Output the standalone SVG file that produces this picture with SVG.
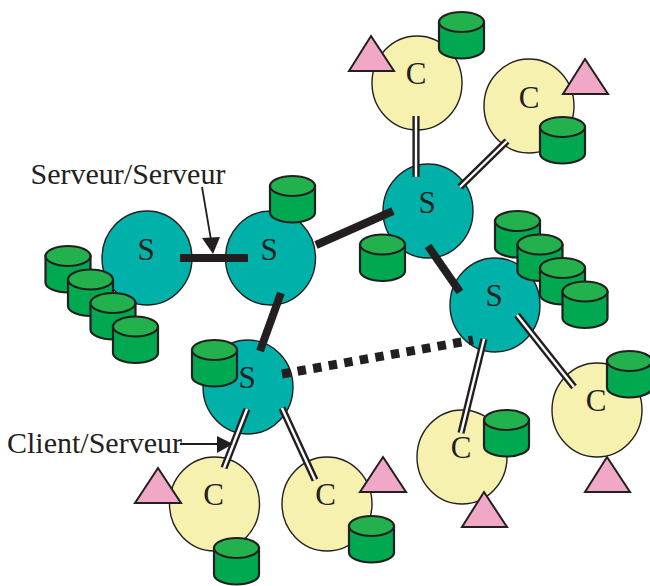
<svg xmlns="http://www.w3.org/2000/svg" xmlns:xlink="http://www.w3.org/1999/xlink" width="650" height="586" viewBox="0 0 650 586">
<style>
.s{fill:#00b1a9;stroke:#231f20;stroke-width:1.4}
.c{fill:#f7f1b0;stroke:#231f20;stroke-width:1.4}
.t{fill:#f0a8c6;stroke:#231f20;stroke-width:2}
.body{fill:#00a94f;stroke:#231f20;stroke-width:2.2}
.top{fill:#22b14c;stroke:#231f20;stroke-width:2.2}
text{font-family:"Liberation Serif","Times New Roman",serif;font-size:30px;fill:#231f20}
.m{text-anchor:middle;font-size:31px}
.thick{stroke:#231f20;stroke-width:8;fill:none}
.dash{stroke:#231f20;stroke-width:9;fill:none;stroke-dasharray:8.500 7.300}
.dbl1{stroke:#231f20;stroke-width:7.2;fill:none}
.dbl2{stroke:#fff;stroke-width:2.4;fill:none}
.thin{stroke:#231f20;stroke-width:1.8;fill:none}
.head{fill:#231f20;stroke:none}
</style>
<defs>
<g id="cyl">
<path class="body" d="M0 10V36.500A22.500 10 0 0 0 45 36.500V10Z"/>
<ellipse class="top" cx="22.500" cy="10" rx="22.500" ry="10"/>
</g>
</defs>
<g id="node-s1"><ellipse class="s" cx="147" cy="258" rx="45" ry="47"/><text class="m" x="146" y="260">S</text>
<use xlink:href="#cyl" href="#cyl" x="45.500" y="246"/><use xlink:href="#cyl" href="#cyl" x="68" y="269.500"/><use xlink:href="#cyl" href="#cyl" x="90.500" y="293"/><use xlink:href="#cyl" href="#cyl" x="113" y="316.500"/></g>
<g id="node-s2"><ellipse class="s" cx="270.500" cy="258" rx="45" ry="47"/><text class="m" x="269" y="260">S</text><use xlink:href="#cyl" href="#cyl" x="270" y="176"/></g>
<g id="node-s3"><ellipse class="s" cx="428" cy="211" rx="45" ry="47"/><text class="m" x="427" y="213">S</text><use xlink:href="#cyl" href="#cyl" x="360" y="234.500"/></g>
<g id="node-s4"><ellipse class="s" cx="495" cy="305" rx="45" ry="47"/><text class="m" x="494" y="306">S</text></g>
<g id="storage-s4"><use xlink:href="#cyl" href="#cyl" x="495" y="211"/><use xlink:href="#cyl" href="#cyl" x="517.500" y="234.500"/><use xlink:href="#cyl" href="#cyl" x="540" y="258"/><use xlink:href="#cyl" href="#cyl" x="562.500" y="281.500"/></g>
<g id="node-s5"><ellipse class="s" cx="248" cy="387" rx="45" ry="47"/><text class="m" x="247" y="388">S</text><use xlink:href="#cyl" href="#cyl" x="192" y="340"/></g>
<g id="node-c1"><ellipse class="c" cx="417" cy="83" rx="45" ry="47"/><text class="m" x="416" y="84">C</text><polygon class="t" points="371,36 394,71 349,71"/><use xlink:href="#cyl" href="#cyl" x="439" y="12"/></g>
<g id="node-c2"><ellipse class="c" cx="529" cy="106" rx="45" ry="47"/><text class="m" x="529" y="107.500">C</text><polygon class="t" points="585,59 608,94 563,94"/><use xlink:href="#cyl" href="#cyl" x="540" y="117"/></g>
<g id="node-c3"><ellipse class="c" cx="597" cy="410" rx="45" ry="47"/><text class="m" x="596" y="410.500">C</text><polygon class="t" points="607,457 630,492 585,492"/><use xlink:href="#cyl" href="#cyl" x="607" y="351"/></g>
<g id="node-c4"><ellipse class="c" cx="462" cy="457" rx="45" ry="47"/><text class="m" x="461" y="458">C</text><polygon class="t" points="484,492 507,527 462,527"/><use xlink:href="#cyl" href="#cyl" x="484" y="410"/></g>
<g id="node-c5"><ellipse class="c" cx="214.500" cy="504" rx="45" ry="47"/><text class="m" x="213.500" y="505">C</text><polygon class="t" points="158,468 181,503 135,503"/><use xlink:href="#cyl" href="#cyl" x="214" y="538"/></g>
<g id="node-c6"><ellipse class="c" cx="327" cy="504" rx="45" ry="47"/><text class="m" x="325.500" y="505">C</text><polygon class="t" points="383,457 406,492 360,492"/><use xlink:href="#cyl" href="#cyl" x="349" y="516"/></g>
<g id="connectors">
<path class="thick" d="M180 258H248"/>
<path class="thick" d="M281 293L260 351"/>
<path class="thick" d="M316 245L393 211"/>
<path class="thick" d="M428 246L460 292"/>
<path class="dash" d="M282 374L473 340"/>
<g class="dbl1"><path id="d1" d="M416 116V177"/><path id="d2" d="M507 141L460 187"/><path id="d3" d="M517 315L574 387"/><path id="d4" d="M484 339L461 433"/><path id="d5" d="M247 409L224 468"/><path id="d6" d="M282 408L315 480"/></g>
<g class="dbl2"><use xlink:href="#d1" href="#d1"/><use xlink:href="#d2" href="#d2"/><use xlink:href="#d3" href="#d3"/><use xlink:href="#d4" href="#d4"/><use xlink:href="#d5" href="#d5"/><use xlink:href="#d6" href="#d6"/></g>
<path class="thin" d="M202 187L211 240"/><polygon class="head" points="213,254 202,238 220,237"/>
<path class="thin" d="M180 444H220"/><polygon class="head" points="233,444 217,436 217,453"/>
</g>
<g id="labels"><text x="30.500" y="184">Serveur/Serveur</text><text x="7" y="453">Client/Serveur</text></g>
</svg>
